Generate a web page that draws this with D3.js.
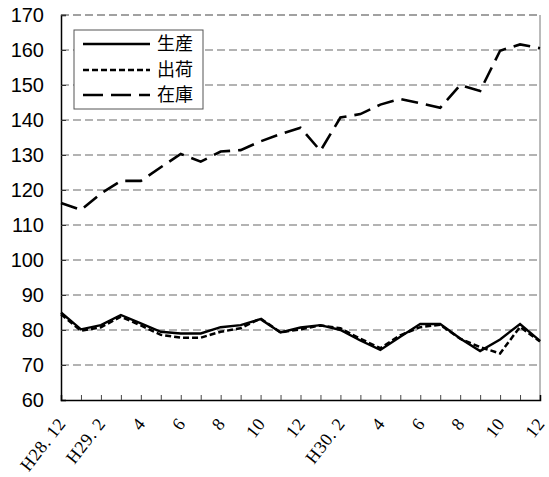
<!DOCTYPE html>
<html><head><meta charset="utf-8">
<script src="https://cdn.jsdelivr.net/npm/d3@7"></script>
<style>body{margin:0;background:#fff}svg{display:block}</style>
</head><body><svg id="c" width="549" height="477"></svg>
<script>
const months = ["H28.12","H29.1","H29.2","H29.3","H29.4","H29.5","H29.6","H29.7","H29.8","H29.9","H29.10","H29.11","H29.12","H30.1","H30.2","H30.3","H30.4","H30.5","H30.6","H30.7","H30.8","H30.9","H30.10","H30.11","H30.12"];
const tickLabels = ["H28. 12","","H29. 2","","4","","6","","8","","10","","12","","H30. 2","","4","","6","","8","","10","","12"];
const production = [85.0,80.2,81.4,84.3,81.9,79.5,79.0,79.0,80.8,81.4,83.1,79.3,80.7,81.4,80.0,77.0,74.3,78.1,81.7,81.7,77.6,74.0,77.3,81.7,76.9];
const shipment   = [84.5,79.8,80.8,83.8,81.3,78.6,77.8,77.8,79.5,80.5,83.3,79.3,80.2,81.3,80.5,77.5,74.8,78.5,80.8,81.5,77.5,75.1,73.3,80.9,76.7];
const inventory  = [116.3,114.3,119.0,122.6,122.6,126.5,130.3,128.1,131.0,131.4,133.9,136.0,137.8,131.2,140.7,141.7,144.4,146.0,144.8,143.5,150.0,148.3,159.8,161.6,160.5];
const yTicks = [60,70,80,90,100,110,120,130,140,150,160,170];
const seriesNames = ["生産","出荷","在庫"];

const svg = d3.select("#c");
const L=61,R=540,T=15,B=400;
const x = d3.scalePoint().domain(months).range([L,R]).padding(0);
const y = d3.scaleLinear().domain([60,170]).range([B,T]);

// grid
svg.append("g").selectAll("line").data(yTicks.filter(v=>v>60&&v<170)).join("line")
  .attr("x1",L).attr("x2",R).attr("y1",d=>y(d)).attr("y2",d=>y(d))
  .attr("stroke","#9a9a9a").attr("stroke-width",1.5).attr("stroke-dasharray","8,4");
// top dashed border
svg.append("line").attr("x1",L).attr("x2",R).attr("y1",y(170)).attr("y2",y(170))
  .attr("stroke","#444").attr("stroke-width",1.2).attr("stroke-dasharray","8,4");
// right border
svg.append("line").attr("x1",R).attr("x2",R).attr("y1",y(170)).attr("y2",B)
  .attr("stroke","#777").attr("stroke-width",1);

// y axis
const ya = svg.append("g").attr("transform",`translate(${L},0)`)
  .call(d3.axisLeft(y).tickValues(yTicks).tickSize(-5).tickPadding(17));
ya.select(".domain").attr("stroke","#000").attr("stroke-width",1.5);
ya.selectAll(".tick line").attr("stroke","#333");
ya.selectAll("text").attr("font-family","Liberation Sans, Arial, sans-serif").attr("font-size",20).attr("fill","#000");

// x axis
const xa = svg.append("g").attr("transform",`translate(0,${B})`)
  .call(d3.axisBottom(x).tickSize(-5).tickFormat((d,i)=>tickLabels[i]));
xa.select(".domain").attr("stroke","#000").attr("stroke-width",1.5);
xa.selectAll(".tick line").attr("stroke","#444");
xa.selectAll(".tick").filter((d,i)=>i===0||i===months.length-1).select("line").remove();
xa.selectAll("text")
  .attr("font-family","Liberation Serif, Times New Roman, serif").attr("font-size",18)
  .attr("letter-spacing","0.5px").attr("fill","#000")
  .attr("text-anchor","end").attr("dy",0).attr("y",0)
  .attr("transform","translate(5,24) rotate(-52)");

const line = d3.line().x((d,i)=>x(months[i])).y(d=>y(d));
svg.append("path").datum(inventory).attr("d",line).attr("fill","none")
  .attr("stroke","#000").attr("stroke-width",2.6).attr("stroke-dasharray","17,8");
svg.append("path").datum(shipment).attr("d",line).attr("fill","none")
  .attr("stroke","#000").attr("stroke-width",2.5).attr("stroke-dasharray","6,3");
svg.append("path").datum(production).attr("d",line).attr("fill","none")
  .attr("stroke","#000").attr("stroke-width",2.4);

// legend
const lg = svg.append("g");
lg.append("rect").attr("x",74).attr("y",30).attr("width",129).attr("height",79)
  .attr("fill","#fff").attr("stroke","#555").attr("stroke-width",1);
const dashes = [null,"6,3","20,8"];
const rows = [44,70,95];
seriesNames.forEach((n,i)=>{
  lg.append("line").attr("x1",83).attr("x2",150).attr("y1",rows[i]).attr("y2",rows[i])
    .attr("stroke","#000").attr("stroke-width",2.6).attr("stroke-dasharray",dashes[i]);
  lg.append("text").attr("x",157).attr("y",rows[i]).attr("dy","0.36em")
    .attr("font-family","Noto Sans CJK JP, sans-serif").attr("font-size",18).text(n);
});
</script></body></html>
